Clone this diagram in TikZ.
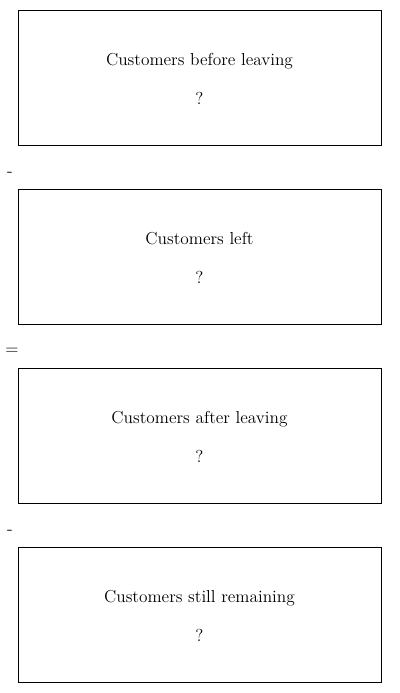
\documentclass[tikz,border=0pt]{standalone}
\usepackage{tikz}
\usetikzlibrary{positioning}

\tikzset{
  qbox/.style={draw, line width=0.75pt, minimum width=272.25pt, minimum height=101.25pt, align=center, font=\fontsize{13}{15}\selectfont, inner sep=0pt},
  qtext/.style={align=center, font=\fontsize{13}{15}\selectfont, inner sep=0pt},
  opsign/.style={font=\fontsize{13}{15}\selectfont, inner sep=0pt}
}

\begin{document}
\begin{tikzpicture}[x=0.75pt,y=-0.75pt]
    \useasboundingbox (0,0) rectangle (400,693);

    % Boxes
    \node[qbox] (before) at (199.5,77.5) {};
    \node[qbox] (left) at (199.5,256.5) {};
    \node[qbox] (after) at (199.5,435.5) {};
    \node[qbox] (still) at (199.5,614.5) {};

    % Texts
    \node[qtext] (beforetxt) at (199.5,79) {Customers before leaving\\[14pt]?};
    \node[qtext] (lefttxt) at (199.5,258) {Customers left\\[14pt]?};
    \node[qtext] (aftertxt) at (199.5,437) {Customers after leaving\\[14pt]?};
    \node[qtext] (stilltxt) at (199.5,616) {Customers still remaining\\[14pt]?};

    % Signs
    \node[opsign] (minusa) at (10,174) {-};
    \node[opsign] (equals) at (12,351) {=};
    \node[opsign] (minusb) at (10,532) {-};
\end{tikzpicture}
\end{document}
